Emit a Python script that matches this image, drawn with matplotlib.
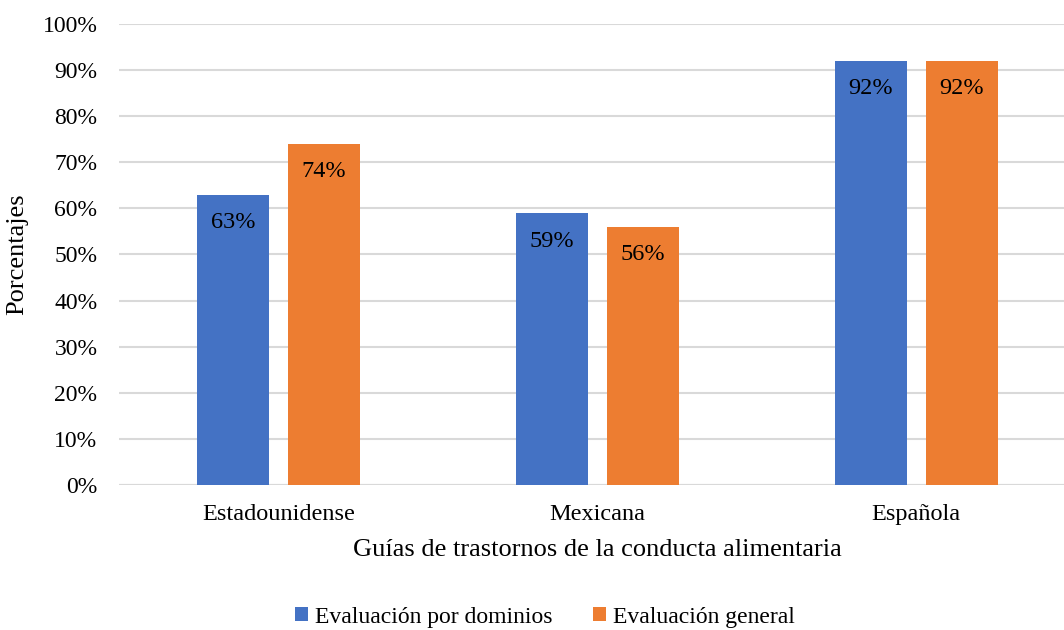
import matplotlib
matplotlib.use("Agg")
import matplotlib.pyplot as plt
import numpy as np

categories = ["Estadounidense", "Mexicana", "Española"]
series_names = ["Evaluación por dominios", "Evaluación general"]
dominios = [63, 59, 92]
general = [74, 56, 92]
yticks = list(range(0, 101, 10))

colors = ["#4472C4", "#ED7D31"]

plt.rcParams['font.family'] = ['Liberation Serif', 'DejaVu Serif']

fig = plt.figure(figsize=(10.64, 6.30), dpi=100)
ax = fig.add_axes([119/1064, 1-485/630, (1075.5-119)/1064, (485-24)/630])

x = np.arange(len(categories))
w = 0.2257
off = 0.1426
for vals, c, name, o in [(dominios, colors[0], series_names[0], -off),
                         (general, colors[1], series_names[1], off)]:
    bars = ax.bar(x + o, vals, width=w, color=c, label=name, zorder=3)
    for b, v in zip(bars, vals):
        ax.annotate(f"{v}%", (b.get_x() + b.get_width()/2, v), xytext=(0, -28),
                    textcoords="offset pixels",
                    ha="center", va="center", fontsize=17.5, color="black", zorder=4)

ax.set_xlim(-0.5, 2.5)
ax.set_ylim(0, 100)
ax.set_yticks(yticks)
ax.set_yticklabels([f"{t}%" for t in yticks], fontsize=17)
ax.set_xticks(x)
ax.set_xticklabels(categories, fontsize=17.5)
ax.yaxis.grid(True, color="#d9d9d9", linewidth=1.5, zorder=0)
ax.set_axisbelow(True)
for s in ["top", "right", "left", "bottom"]:
    ax.spines[s].set_visible(False)
ax.axhline(0, color="#d9d9d9", linewidth=1.5, zorder=2)
ax.tick_params(axis="y", length=0, pad=15.5)
ax.tick_params(axis="x", length=0, pad=14)
ax.set_ylabel("Porcentajes", fontsize=19, labelpad=10)
ax.set_xlabel("Guías de trastornos de la conducta alimentaria", fontsize=19, labelpad=10)

handles, labels = ax.get_legend_handles_labels()
fig.legend(handles, labels, loc="center", bbox_to_anchor=(545/1064, 1-617/630),
           ncol=2, frameon=False, fontsize=17, handlelength=0.55, handleheight=0.55,
           handletextpad=0.3, columnspacing=1.7)

fig.savefig("out.png", dpi=100)
